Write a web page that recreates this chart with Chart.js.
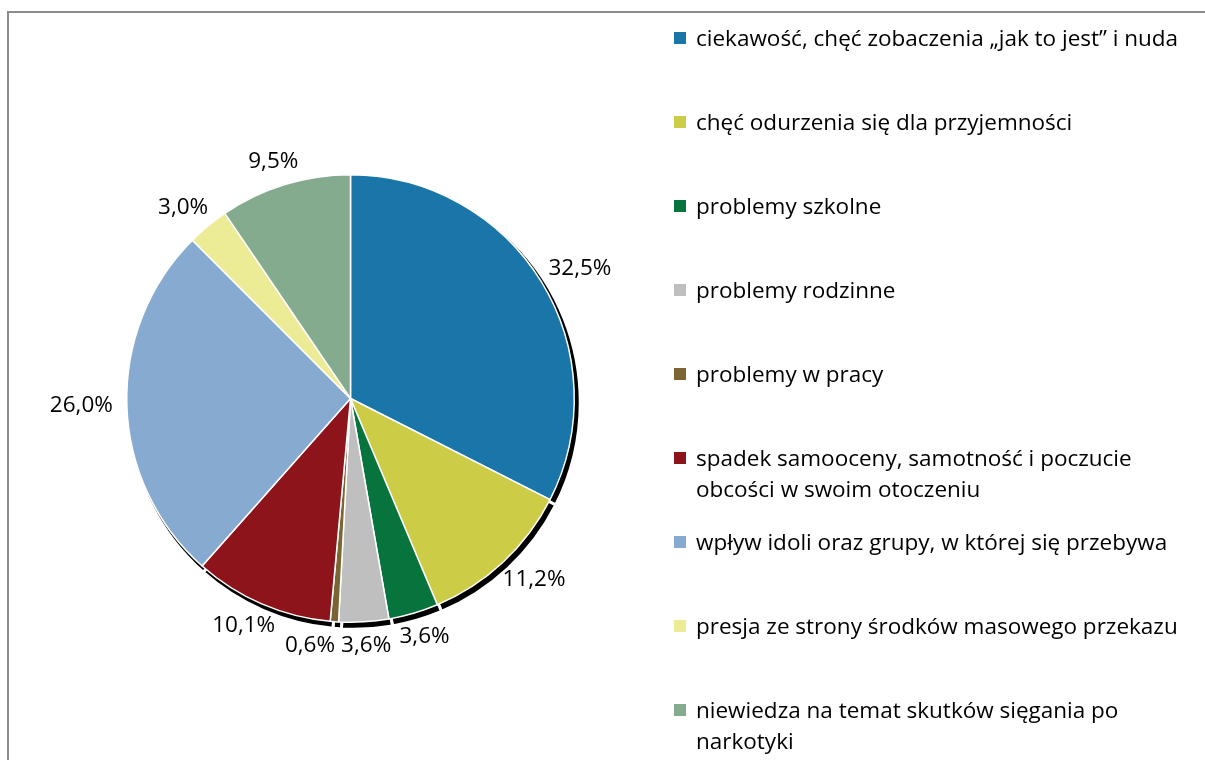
<!DOCTYPE html>
<html>
<head>
<meta charset="utf-8">
<script src="https://cdn.jsdelivr.net/npm/chart.js@4.4.0/dist/chart.umd.min.js"></script>
<style>
  html, body { margin: 0; padding: 0; background: #fff; }
  #wrap { position: relative; width: 1205px; height: 760px; overflow: hidden; }
  #frame { position: absolute; left: 7px; top: 11px; width: 1300px; height: 900px; border: 2px solid #8c8c8c; box-sizing: border-box; }
  #box { position: absolute; left: 0; top: 0; width: 1205px; height: 760px; }
  #legend { position: absolute; left: 674px; top: 0; font-family: "Open Sans", Lato, sans-serif; font-size: 22.5px; color: #000; }
  .item { position: absolute; left: 0; width: 540px; line-height: 31px; white-space: nowrap; }
  .item span.sq { position: absolute; left: 0; top: 10px; width: 12px; height: 12px; }
  .item span.tx { position: absolute; left: 22px; top: 0; }
</style>
</head>
<body>
<div id="wrap">
  <div id="frame"></div>
  <div id="box"><canvas id="myChart"></canvas></div>
  <div id="legend"></div>
</div>
<script>
// data
const categories = [
  'ciekawość, chęć zobaczenia „jak to jest” i nuda',
  'chęć odurzenia się dla przyjemności',
  'problemy szkolne',
  'problemy rodzinne',
  'problemy w pracy',
  ['spadek samooceny, samotność i poczucie', 'obcości w swoim otoczeniu'],
  'wpływ idoli oraz grupy, w której się przebywa',
  'presja ze strony środków masowego przekazu',
  ['niewiedza na temat skutków sięgania po', 'narkotyki']
];
const values = [32.5, 11.2, 3.6, 3.6, 0.6, 10.1, 26.0, 3.0, 9.5];
const sliceColors = ['#1a76a9', '#cdcc46', '#07743d', '#bfbfbf', '#7b6532', '#8e141b', '#87abd0', '#ecec96', '#85ab8e'];

// html legend
const legend = document.getElementById('legend');
categories.forEach((cat, i) => {
    const lines = Array.isArray(cat) ? cat : [cat];
    const div = document.createElement('div');
    div.className = 'item';
    div.style.top = (22 + 84 * i) + 'px';
    div.innerHTML = '<span class="sq" style="background:' + sliceColors[i] + '"></span><span class="tx">' + lines.join('<br>') + '</span>';
    legend.appendChild(div);
});

// shadow under each slice
const shadowPlugin = {
    id: 'shadow',
    beforeDatasetsDraw(chart) {
        const c = chart.ctx;
        chart.getDatasetMeta(0).data.forEach((arc) => {
            const p = arc.getProps(['x', 'y', 'startAngle', 'endAngle', 'outerRadius']);
            c.save();
            c.beginPath();
            c.moveTo(p.x + 3, p.y + 4);
            c.arc(p.x + 3, p.y + 4, p.outerRadius + 3, p.startAngle, p.endAngle);
            c.closePath();
            c.fillStyle = '#000';
            c.fill();
            c.lineWidth = 3;
            c.strokeStyle = '#fff';
            c.stroke();
            c.restore();
        });
    }
};

// percent labels outside the slices
const labelPlugin = {
    id: 'pctLabels',
    afterDatasetsDraw(chart) {
        const c = chart.ctx;
        c.save();
        c.font = '22.5px "Open Sans", Lato, sans-serif';
        c.fillStyle = '#000';
        c.textAlign = 'center';
        c.textBaseline = 'middle';
        const placed = [];
        chart.getDatasetMeta(0).data.forEach((arc, i) => {
            const p = arc.getProps(['x', 'y', 'startAngle', 'endAngle', 'outerRadius']);
            const mid = (p.startAngle + p.endAngle) / 2;
            const txt = values[i].toFixed(1).replace('.', ',') + '%';
            const w = c.measureText(txt).width;
            const h = 20;
            const r = p.outerRadius + 14;
            let x = p.x + Math.cos(mid) * r + Math.cos(mid) * w / 2;
            let y = p.y + Math.sin(mid) * r + Math.sin(mid) * h / 2;
            // push away from the previous label if they overlap
            const prev = placed[placed.length - 1];
            if (prev && Math.abs(prev.y - y) < h && Math.abs(prev.x - x) < (prev.w + w) / 2 + 4) {
                x = prev.x + (x < prev.x ? -1 : 1) * ((prev.w + w) / 2 + 6);
            }
            placed.push({ x, y, w });
            c.fillText(txt, x, y);
        });
        c.restore();
    }
};

const ctx = document.getElementById('myChart').getContext('2d');
const myChart = new Chart(ctx, {
    type: 'pie',
    data: {
        labels: categories.map(c => Array.isArray(c) ? c.join(' ') : c),
        datasets: [{
            data: values,
            backgroundColor: sliceColors,
            borderColor: '#ffffff',
            borderWidth: 1.5
        }]
    },
    options: {
        responsive: true,
        maintainAspectRatio: false,
        animation: false,
        layout: {
            padding: { left: 126, right: 630, top: 174, bottom: 137 }
        },
        plugins: {
            legend: { display: false },
            tooltip: { enabled: false }
        }
    },
    plugins: [shadowPlugin, labelPlugin]
});
</script>
</body>
</html>
